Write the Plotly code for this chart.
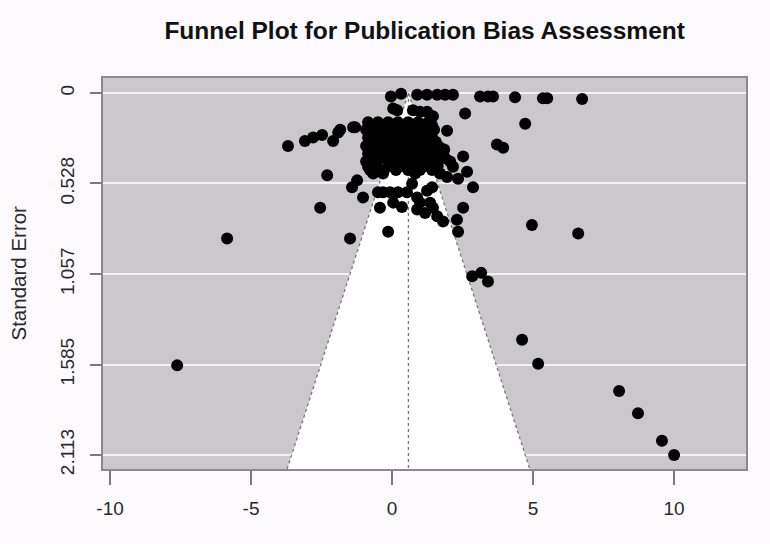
import plotly.graph_objects as go

# ---- data ----
effect_sizes = [
    # top row (se ~ 0)
    -0.04, 0.32, 0.89, 1.24, 1.60, 1.88, 2.16, 3.12, 3.40, 3.58, 4.36, 5.35, 5.50, 6.74,
    # second row
    0.04, 0.18, 0.74, 0.99, 1.24, 1.45, 2.59,
    # right scattered
    4.72, 3.72, 3.94, 1.95, 1.70, 2.52,
    # left arm
    -3.69, -3.09, -2.80, -2.48, -2.09, -1.91, -1.31, -1.84, -1.38,
    # dense cluster
    -0.85, -0.50, -0.14, 0.21, 0.57, 0.92, 1.28,
    -0.70, -0.32, 0.04, 0.39, 0.75, 1.10, 1.42,
    -0.92, -0.57, -0.21, 0.14, 0.50, 0.85, 1.21, 1.49,
    -0.75, -0.38, 0.00, 0.35, 0.68, 1.03, 1.36,
    -0.85, -0.50, -0.07, 0.35, 0.71, 1.06, 1.42,
    -0.70, -0.30, 0.10, 0.52, 0.88, 1.22, 1.55,
    -0.92, -0.57, -0.21, 0.21, 0.64, 0.99, 1.35, 1.63,
    -0.75, -0.38, 0.02, 0.42, 0.80, 1.15, 1.50, 1.85,
    -0.85, -0.43, 0.00, 0.43, 0.85, 1.28, 1.70,
    -0.70, -0.25, 0.22, 0.64, 1.06, 1.48, 1.88,
    -0.92, -0.57, -0.14, 0.28, 0.71, 1.13, 1.56, 2.06,
    -0.55, -0.05, 0.35, 0.78, 1.20, 1.62,
    -0.78, -0.28, 0.14, 0.57, 0.99, 1.42,
    # lower part of cluster
    -1.24, -1.42, -1.03, -0.43, -0.14, -1.49, 2.66, 2.34, 2.87, 2.52, 2.30, 2.34,
    1.81, 1.60, 1.17, 0.89, 0.35, 0.04, -0.50, -0.32, -0.07, 0.21, 0.53, 0.89,
    0.99, 1.35, 1.45, 1.24, 0.71, 0.82, 1.42, 1.70, 1.95, 2.16, -0.67, -0.32, -0.85,
    # outliers
    -2.30, -2.55, -5.85, 4.96, 6.60, -7.62, 2.84, 3.16, 3.40, 4.61, 5.18, 8.05, 8.72, 9.57, 10.0,
]
standard_errors = [
    0.02, 0.005, 0.01, 0.01, 0.01, 0.01, 0.01, 0.02, 0.02, 0.02, 0.025, 0.03, 0.03, 0.035,
    0.09, 0.10, 0.10, 0.11, 0.11, 0.135, 0.12,
    0.18, 0.30, 0.32, 0.22, 0.32, 0.37,
    0.31, 0.28, 0.26, 0.245, 0.28, 0.23, 0.20, 0.215, 0.20,
    0.17, 0.17, 0.17, 0.17, 0.17, 0.17, 0.17,
    0.19, 0.19, 0.19, 0.19, 0.19, 0.19, 0.19,
    0.215, 0.215, 0.215, 0.215, 0.215, 0.215, 0.215, 0.215,
    0.24, 0.24, 0.24, 0.24, 0.24, 0.24, 0.24,
    0.26, 0.26, 0.26, 0.26, 0.26, 0.26, 0.26,
    0.285, 0.285, 0.285, 0.285, 0.285, 0.285, 0.285,
    0.31, 0.31, 0.31, 0.31, 0.31, 0.31, 0.31, 0.31,
    0.33, 0.33, 0.33, 0.33, 0.33, 0.33, 0.33, 0.33,
    0.355, 0.355, 0.355, 0.355, 0.355, 0.355, 0.355,
    0.38, 0.38, 0.38, 0.38, 0.38, 0.38, 0.38,
    0.40, 0.40, 0.40, 0.40, 0.40, 0.40, 0.40, 0.40,
    0.425, 0.425, 0.425, 0.425, 0.425, 0.425,
    0.45, 0.45, 0.45, 0.45, 0.45, 0.45,
    0.51, 0.55, 0.61, 0.67, 0.81, 0.85, 0.46, 0.50, 0.55, 0.67, 0.74, 0.81,
    0.75, 0.72, 0.70, 0.68, 0.665, 0.64, 0.58, 0.58, 0.58, 0.58, 0.58, 0.61,
    0.64, 0.64, 0.67, 0.57, 0.53, 0.47, 0.55, 0.47, 0.49, 0.43, 0.47, 0.47, 0.43,
    0.48, 0.67, 0.85, 0.77, 0.82, 1.59, 1.07, 1.05, 1.10, 1.44, 1.58, 1.74, 1.87, 2.03, 2.113,
]

pooled_estimate = 0.58
z_crit = 1.96
se_bottom = 2.195
x_ticks = [-10, -5, 0, 5, 10]
se_ticks = [0, 0.528, 1.057, 1.585, 2.113]
se_tick_labels = ["0", "0.528", "1.057", "1.585", "2.113"]
title_text = "Funnel Plot for Publication Bias Assessment"
y_title = "Standard Error"

# ---- figure ----
lb_bottom = pooled_estimate - z_crit * se_bottom
ub_bottom = pooled_estimate + z_crit * se_bottom

fig = go.Figure()
# white funnel region
fig.add_trace(go.Scatter(
    x=[lb_bottom, pooled_estimate, ub_bottom, lb_bottom],
    y=[se_bottom, 0, se_bottom, se_bottom],
    mode="lines", fill="toself", fillcolor="white",
    line=dict(width=0, color="white"), hoverinfo="skip", showlegend=False))
# dotted funnel edges
fig.add_trace(go.Scatter(
    x=[lb_bottom, pooled_estimate, ub_bottom],
    y=[se_bottom, 0, se_bottom],
    mode="lines", line=dict(color="#777777", width=1.3, dash="dot"),
    hoverinfo="skip", showlegend=False))
# dotted center line
fig.add_trace(go.Scatter(
    x=[pooled_estimate, pooled_estimate],
    y=[0, se_bottom],
    mode="lines", line=dict(color="#777777", width=1.3, dash="dot"),
    hoverinfo="skip", showlegend=False))
# studies
fig.add_trace(go.Scatter(
    x=effect_sizes, y=standard_errors, mode="markers",
    marker=dict(color="black", size=12, line=dict(width=0)),
    showlegend=False))

fig.update_layout(
    width=770, height=544,
    margin=dict(l=103, r=24, t=78, b=75),
    paper_bgcolor="#fdfafd",
    plot_bgcolor="#cac8cb",
    font=dict(family="Liberation Sans, Arial, sans-serif", color="#2a2a2a", size=19),
    title=dict(text=title_text, x=0.5515, xanchor="center", y=1 - 30 / 544,
               yref="container", yanchor="middle",
               font=dict(size=24.5, color="#111111", family="Liberation Sans, Arial, sans-serif",
                         weight="bold")),
    showlegend=False,
    annotations=[dict(
        text=y_title, textangle=-90, xref="paper", yref="paper",
        x=(18 - 103) / 643, y=0.5, xanchor="center", yanchor="middle",
        showarrow=False, font=dict(size=20.5, color="#2a2a2a"))],
)
fig.update_xaxes(
    range=[-10.25, 12.55], tickvals=x_ticks, ticktext=[str(v) for v in x_ticks],
    showgrid=False, zeroline=False,
    ticks="outside", ticklen=14, tickwidth=1.5, tickcolor="#7a7a7a",
    showline=True, linecolor="#8a8a8a", linewidth=1.5, mirror=True,
    ticklabelstandoff=7,
    tickfont=dict(size=19, color="#2a2a2a"),
)
fig.update_yaxes(
    range=[se_bottom, -0.0876], tickvals=se_ticks, ticktext=se_tick_labels,
    tickangle=-90,
    showgrid=True, gridcolor="#f2f2f2", gridwidth=2, zeroline=False,
    ticks="outside", ticklen=11, tickwidth=1.5, tickcolor="#7a7a7a",
    showline=True, linecolor="#8a8a8a", linewidth=1.5, mirror=True,
    ticklabelstandoff=9,
    tickfont=dict(size=19, color="#2a2a2a"),
)

fig.write_html("out.html")
